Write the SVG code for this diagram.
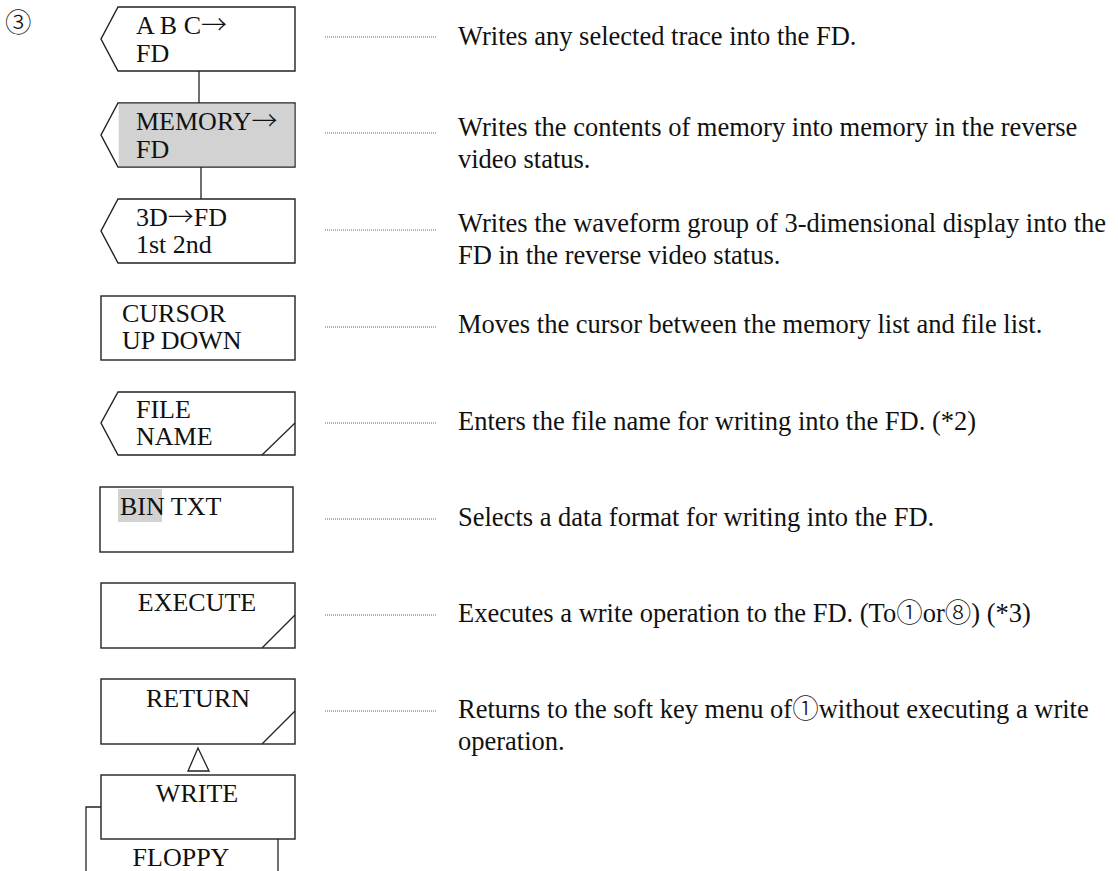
<svg xmlns="http://www.w3.org/2000/svg" width="1118" height="871" viewBox="0 0 1118 871">
<style>
.t{font-family:"Liberation Serif","Times New Roman","Noto Sans CJK JP",serif;font-size:26.5px;fill:#111}
.k{font-size:26px}
.a{font-family:"Noto Sans CJK JP",sans-serif;font-weight:300}
.m{text-anchor:middle}
.box{fill:#fff;stroke:#222;stroke-width:1.4}
.sl{stroke:#222;stroke-width:1.3;fill:none}
.dot{stroke:#666;stroke-width:1;stroke-dasharray:1 1;fill:none}
.hl{fill:#d2d2d2}
</style>
<rect width="1118" height="871" fill="#fff"/>
<text class="t" x="5" y="32"><tspan class="a">③</tspan></text>

<g id="connectors">
<line class="sl" x1="199" y1="71" x2="199" y2="103"/>
<line class="sl" x1="201" y1="167" x2="201" y2="199"/>
<polygon class="sl" points="198,748 188,771 209,771"/>
<polyline class="sl" points="101,807 86,807 86,871"/>
<line class="sl" x1="278" y1="839" x2="278" y2="871"/>
<line class="dot" x1="325" y1="37" x2="437" y2="37"/>
<line class="dot" x1="325" y1="133" x2="437" y2="133"/>
<line class="dot" x1="325" y1="230" x2="437" y2="230"/>
<line class="dot" x1="325" y1="327" x2="437" y2="327"/>
<line class="dot" x1="325" y1="423" x2="437" y2="423"/>
<line class="dot" x1="325" y1="519" x2="437" y2="519"/>
<line class="dot" x1="325" y1="615" x2="437" y2="615"/>
<line class="dot" x1="325" y1="711" x2="437" y2="711"/>
</g>

<g id="n-abc">
<polygon class="box" points="118,7 295,7 295,71 118,71 101,39"/>
<text class="t k" x="136" y="34">A B C<tspan class="a">→</tspan></text>
<text class="t k" x="136" y="62">FD</text>
</g>
<g id="n-memory">
<polygon class="box" points="118,103 295,103 295,167 118,167 101,135"/>
<rect class="hl" x="118.7" y="103.7" width="175.6" height="62.6"/>
<text class="t k" x="136" y="130">MEMORY<tspan class="a">→</tspan></text>
<text class="t k" x="136" y="158">FD</text>
</g>
<g id="n-3d">
<polygon class="box" points="118,199 295,199 295,263 118,263 101,231"/>
<text class="t k" x="136" y="226">3D<tspan class="a">→</tspan>FD</text>
<text class="t k" x="136" y="253">1st 2nd</text>
</g>
<g id="n-cursor">
<rect class="box" x="101" y="296" width="194" height="64"/>
<text class="t k" x="122" y="322">CURSOR</text>
<text class="t k" x="122" y="349">UP DOWN</text>
</g>
<g id="n-filename">
<polygon class="box" points="118,392 295,392 295,455 118,455 101,423"/>
<line class="sl" x1="262" y1="455" x2="295" y2="423"/>
<text class="t k" x="136" y="418">FILE</text>
<text class="t k" x="136" y="445">NAME</text>
</g>
<g id="n-bintxt">
<rect class="box" x="100" y="487" width="193" height="65"/>
<rect class="hl" x="118" y="489" width="44" height="33"/>
<text class="t k" x="120" y="515">BIN TXT</text>
</g>
<g id="n-execute">
<rect class="box" x="101" y="583" width="194" height="65"/>
<line class="sl" x1="262" y1="648" x2="295" y2="615"/>
<text class="t k m" x="197" y="611">EXECUTE</text>
</g>
<g id="n-return">
<rect class="box" x="101" y="679" width="194" height="65"/>
<line class="sl" x1="262" y1="744" x2="295" y2="711"/>
<text class="t k m" x="198" y="707">RETURN</text>
</g>
<g id="n-write">
<rect class="box" x="101" y="775" width="194" height="64"/>
<text class="t k m" x="197" y="802">WRITE</text>
</g>
<g id="n-floppy">
<text class="t k m" x="181" y="866">FLOPPY</text>
</g>

<g id="descriptions">
<text class="t" x="458" y="45">Writes any selected trace into the FD.</text>
<text class="t" x="458" y="136">Writes the contents of memory into memory in the reverse</text>
<text class="t" x="458" y="168">video status.</text>
<text class="t" x="458" y="232">Writes the waveform group of 3-dimensional display into the</text>
<text class="t" x="458" y="264">FD in the reverse video status.</text>
<text class="t" x="458" y="333">Moves the cursor between the memory list and file list.</text>
<text class="t" x="458" y="430">Enters the file name for writing into the FD. (*2)</text>
<text class="t" x="458" y="526">Selects a data format for writing into the FD.</text>
<text class="t" x="458" y="622">Executes a write operation to the FD. (To<tspan class="a">①</tspan>or<tspan class="a">⑧</tspan>) (*3)</text>
<text class="t" x="458" y="718">Returns to the soft key menu of<tspan class="a">①</tspan>without executing a write</text>
<text class="t" x="458" y="750">operation.</text>
</g>
</svg>
